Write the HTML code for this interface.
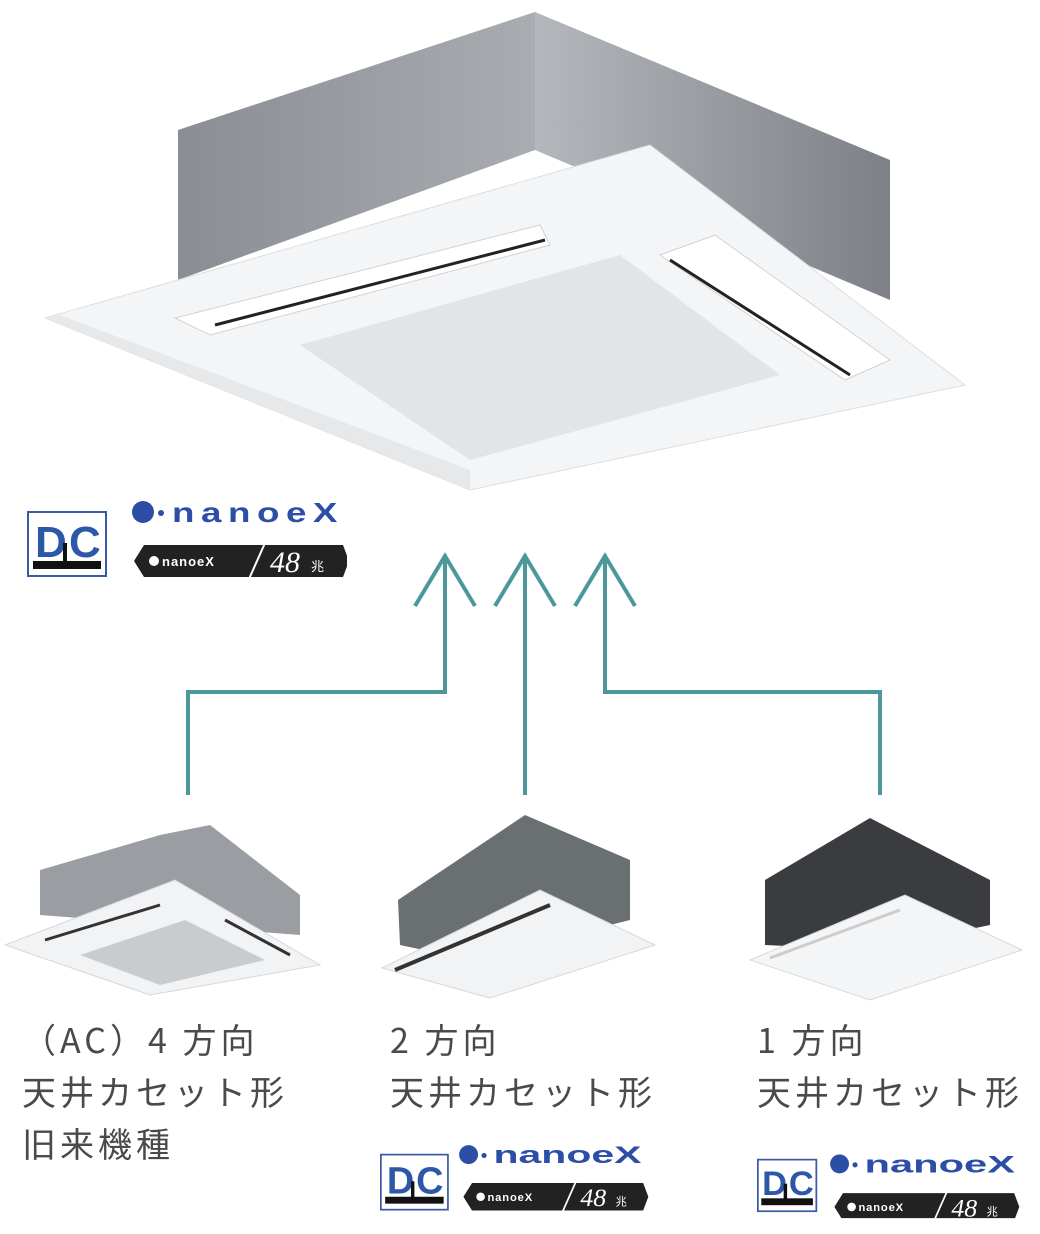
<!DOCTYPE html>
<html><head><meta charset="utf-8"><style>
body{margin:0;width:1040px;height:1234px;background:#fff;position:relative;overflow:hidden;font-family:"Liberation Sans","Noto Sans CJK JP",sans-serif}
.t{position:absolute;font-size:34px;color:#4a4a4a;line-height:52px;letter-spacing:4px;font-family:"Noto Sans CJK JP","Liberation Sans",sans-serif}
.badge{position:absolute;transform-origin:0 0}
</style></head><body>
<svg width="1040" height="1234" style="position:absolute;left:0;top:0">
<defs>
<linearGradient id="g1" x1="0" x2="1"><stop offset="0" stop-color="#8a8e94"/><stop offset="1" stop-color="#a9adb2"/></linearGradient>
<linearGradient id="g2" x1="0" x2="1"><stop offset="0" stop-color="#b4b8bc"/><stop offset="1" stop-color="#7d8187"/></linearGradient>
</defs>
<polygon points="178,130 535,12 535,150 178,280" fill="url(#g1)"/>
<polygon points="535,12 890,160 890,300 535,150" fill="url(#g2)"/>
<polygon points="45,318 650,145 965,385 470,490" fill="#f4f5f6" stroke="#dcdfe2"/>
<polygon points="45,318 470,490 470,470 60,315" fill="#e6e8ea"/>
<polygon points="300,345 620,255 780,375 470,460" fill="#e2e4e7"/>
<polygon points="175,318 540,225 550,245 210,335" fill="#fff" stroke="#cfd2d5"/>
<line x1="215" y1="325" x2="545" y2="240" stroke="#222" stroke-width="3"/>
<polygon points="660,255 715,235 890,360 845,380" fill="#fff" stroke="#cfd2d5"/>
<line x1="670" y1="260" x2="850" y2="375" stroke="#222" stroke-width="3"/>
<g fill="none" stroke="#4b979c" stroke-width="4">
<polyline points="188,795 188,692 445,692 445,555"/>
<polyline points="415,606 445,556 475,606"/>
<polyline points="525,795 525,555"/>
<polyline points="495,606 525,556 555,606"/>
<polyline points="880,795 880,692 605,692 605,555"/>
<polyline points="575,606 605,556 635,606"/>
</g>
<polygon points="40,870 160,835 210,825 300,895 300,935 40,915" fill="#9a9ea3"/>
<polygon points="5,945 175,880 320,965 150,995" fill="#f2f3f4" stroke="#d5d8db"/>
<polygon points="80,955 185,920 265,960 160,985" fill="#c9cbcd"/>
<line x1="45" y1="940" x2="160" y2="905" stroke="#333" stroke-width="3"/>
<line x1="225" y1="920" x2="290" y2="955" stroke="#333" stroke-width="3"/>
<polygon points="398,900 525,815 630,860 630,920 470,960 400,945" fill="#6a6f72"/>
<polygon points="382,968 540,890 655,945 490,998" fill="#f2f3f4" stroke="#d5d8db"/>
<line x1="395" y1="970" x2="550" y2="905" stroke="#333" stroke-width="4"/>
<polygon points="765,880 870,818 990,880 990,925 870,950 765,945" fill="#3a3c3f"/>
<polygon points="750,960 905,895 1022,950 870,1000" fill="#f4f5f6" stroke="#d5d8db"/>
<line x1="770" y1="958" x2="900" y2="910" stroke="#ccc" stroke-width="3"/>
</svg>

<div class="t" style="left:22px;top:1013px">（AC）4 方向<br>天井カセット形<br>旧来機種</div>
<div class="t" style="left:390px;top:1013px">2 方向<br>天井カセット形</div>
<div class="t" style="left:757px;top:1013px">1 方向<br>天井カセット形</div>

<div class="badge" style="left:27px;top:495px">
<svg width="320" height="85" viewBox="0 0 320 85">
<rect x="1" y="17" width="78" height="64" fill="#fff" stroke="#3a5aa6" stroke-width="2"/>
<text x="8" y="62" font-family="Liberation Sans Narrow, Liberation Sans" font-weight="bold" font-size="44" fill="#2d58a8">D</text>
<text x="42" y="62" font-family="Liberation Sans Narrow, Liberation Sans" font-weight="bold" font-size="44" fill="#2d58a8">C</text>
<rect x="36" y="48" width="4" height="20" fill="#111"/>
<rect x="6" y="66" width="68" height="8" fill="#111"/>
<circle cx="116" cy="17" r="11" fill="#2d4ea6"/>
<circle cx="134" cy="18" r="3" fill="#2d4ea6"/>
<text x="145" y="27" font-family="Liberation Sans" font-weight="bold" font-size="28" letter-spacing="5" fill="#2d4ea6" textLength="172" lengthAdjust="spacingAndGlyphs">nanoeX</text>
<polygon points="107,66 117,50 316,50 322,66 316,82 117,82" fill="#222"/>
<circle cx="127" cy="66" r="5" fill="#fff"/>
<text x="135" y="71" font-family="Liberation Sans" font-weight="bold" font-size="13" fill="#fff" letter-spacing="1">nanoeX</text>
<line x1="222" y1="84" x2="238" y2="48" stroke="#fff" stroke-width="2"/>
<text x="243" y="77" font-family="Liberation Serif" font-style="italic" font-size="30" fill="#fff">48</text>
<text x="284" y="76" font-family="Noto Sans CJK JP" font-size="13" fill="#fff">兆</text>
</svg></div>

<div class="badge" style="left:380px;top:1140px;transform:scale(0.86)">
<svg width="320" height="85" viewBox="0 0 320 85">
<rect x="1" y="17" width="78" height="64" fill="#fff" stroke="#3a5aa6" stroke-width="2"/>
<text x="8" y="62" font-family="Liberation Sans" font-weight="bold" font-size="44" fill="#2d58a8">D</text>
<text x="42" y="62" font-family="Liberation Sans" font-weight="bold" font-size="44" fill="#2d58a8">C</text>
<rect x="36" y="48" width="4" height="20" fill="#111"/>
<rect x="6" y="66" width="68" height="8" fill="#111"/>
<circle cx="103" cy="17" r="11" fill="#2d4ea6"/>
<circle cx="121" cy="18" r="3" fill="#2d4ea6"/>
<text x="132" y="27" font-family="Liberation Sans" font-weight="bold" font-size="28" fill="#2d4ea6" textLength="172" lengthAdjust="spacingAndGlyphs">nanoeX</text>
<polygon points="97,66 107,50 306,50 312,66 306,82 107,82" fill="#222"/>
<circle cx="117" cy="66" r="5" fill="#fff"/>
<text x="125" y="71" font-family="Liberation Sans" font-weight="bold" font-size="13" fill="#fff" letter-spacing="1">nanoeX</text>
<line x1="212" y1="84" x2="228" y2="48" stroke="#fff" stroke-width="2"/>
<text x="233" y="77" font-family="Liberation Serif" font-style="italic" font-size="30" fill="#fff">48</text>
<text x="274" y="76" font-family="Noto Sans CJK JP" font-size="13" fill="#fff">兆</text>
</svg></div>

<div class="badge" style="left:757px;top:1145px;transform:scale(0.86)">
<svg width="320" height="85" viewBox="0 0 320 85">
<rect x="1" y="17" width="68" height="60" fill="#fff" stroke="#3a5aa6" stroke-width="2"/>
<text x="6" y="58" font-family="Liberation Sans" font-weight="bold" font-size="40" fill="#2d58a8">D</text>
<text x="37" y="58" font-family="Liberation Sans" font-weight="bold" font-size="40" fill="#2d58a8">C</text>
<rect x="31" y="45" width="4" height="18" fill="#111"/>
<rect x="5" y="62" width="60" height="8" fill="#111"/>
<circle cx="96" cy="22" r="11" fill="#2d4ea6"/>
<circle cx="114" cy="23" r="3" fill="#2d4ea6"/>
<text x="125" y="32" font-family="Liberation Sans" font-weight="bold" font-size="28" fill="#2d4ea6" textLength="175" lengthAdjust="spacingAndGlyphs">nanoeX</text>
<polygon points="90,72 100,56 299,56 305,72 299,88 100,88" fill="#222"/>
<circle cx="110" cy="72" r="5" fill="#fff"/>
<text x="118" y="77" font-family="Liberation Sans" font-weight="bold" font-size="13" fill="#fff" letter-spacing="1">nanoeX</text>
<line x1="205" y1="90" x2="221" y2="54" stroke="#fff" stroke-width="2"/>
<text x="226" y="83" font-family="Liberation Serif" font-style="italic" font-size="30" fill="#fff">48</text>
<text x="267" y="82" font-family="Noto Sans CJK JP" font-size="13" fill="#fff">兆</text>
</svg></div>
</body></html>
